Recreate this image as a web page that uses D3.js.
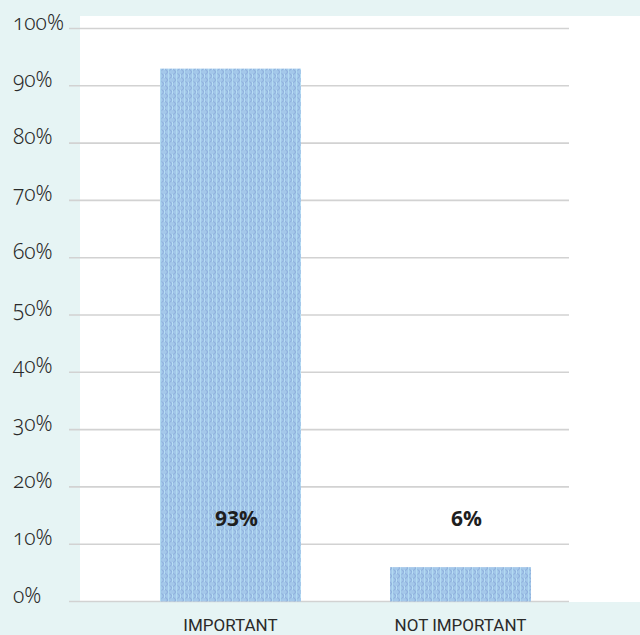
<!DOCTYPE html>
<html>
<head>
<meta charset="utf-8">
<script src="https://cdn.jsdelivr.net/npm/d3@7"></script>
<style>
  html, body { margin: 0; padding: 0; background: #e6f4f4; }
  svg { display: block; }
</style>
</head>
<body>
<div id="chart"></div>
<script>
const categories = ["IMPORTANT", "NOT IMPORTANT"];
const values = [93, 6];
const valueLabels = ["93%", "6%"];
const tickValues = [0, 10, 20, 30, 40, 50, 60, 70, 80, 90, 100];
const tickLabels = ["0%", "10%", "20%", "30%", "40%", "50%", "60%", "70%", "80%", "90%", "100%"];

const W = 640, H = 635;
const svg = d3.select("#chart").append("svg").attr("width", W).attr("height", H);

// background
svg.append("rect").attr("x", 0).attr("y", 0).attr("width", W).attr("height", H).attr("fill", "#e6f4f4");
svg.append("rect").attr("x", 80).attr("y", 16).attr("width", W - 80).attr("height", 602 - 16).attr("fill", "#ffffff");

// pattern for bar texture
const defs = svg.append("defs");
const pat = defs.append("pattern").attr("id", "weave").attr("patternUnits", "userSpaceOnUse")
  .attr("width", 8).attr("height", 8);
pat.append("rect").attr("width", 8).attr("height", 8).attr("fill", "#a4c8ea");
pat.append("path").attr("d", "M0,0 L4,4 L8,0 M0,8 L4,4 L8,8").attr("stroke", "#90b2de").attr("stroke-width", 1.2).attr("fill", "none");
pat.append("rect").attr("x", 0).attr("y", 0).attr("width", 1.2).attr("height", 8).attr("fill", "#b2daf2");
pat.append("rect").attr("x", 4).attr("y", 2).attr("width", 1).attr("height", 4).attr("fill", "#b6dcf4");

const y = d3.scaleLinear().domain([0, 100]).range([601.5, 28.5]);
const x = d3.scaleBand().domain(categories).range([115.5, 575.5]).paddingInner(0.387).paddingOuter(0.1935);

// gridlines
svg.append("g").selectAll("line").data(tickValues).join("line")
  .attr("x1", 69).attr("x2", 569)
  .attr("y1", d => y(d)).attr("y2", d => y(d))
  .attr("stroke", "#d2d2d2").attr("stroke-width", 1.6);

// tick labels
svg.append("g").selectAll("text").data(tickValues).join("text")
  .attr("x", 13).attr("y", d => y(d) + 1)
  .attr("font-family", "'Noto Sans', Lato, sans-serif")
  .style("font-variant-numeric", "oldstyle-nums")
  .attr("font-weight", 300)
  .attr("font-size", 21).attr("fill", "#2a2a2a")
  .text((d, i) => tickLabels[i]);

// bars
svg.append("g").selectAll("rect").data(values).join("rect")
  .attr("x", (d, i) => x(categories[i]))
  .attr("width", x.bandwidth())
  .attr("y", d => y(d))
  .attr("height", d => y(0) - y(d))
  .attr("fill", "url(#weave)");

// value labels
svg.append("g").selectAll("text").data(values).join("text")
  .attr("x", (d, i) => x(categories[i]) + x.bandwidth() / 2 + 6)
  .attr("y", 526)
  .attr("text-anchor", "middle")
  .attr("font-family", "'Open Sans', 'Noto Sans', sans-serif")
  .attr("font-weight", "bold")
  .attr("font-size", 21).attr("fill", "#1e1e1e")
  .text((d, i) => valueLabels[i]);

// category labels
svg.append("g").selectAll("text").data(categories).join("text")
  .attr("x", d => x(d) + x.bandwidth() / 2)
  .attr("y", 631)
  .attr("text-anchor", "middle")
  .attr("font-family", "'Liberation Sans Narrow', 'Roboto', sans-serif")
  .attr("font-size", 17).attr("fill", "#2a2a2a")
  .text(d => d);
</script>
</body>
</html>
